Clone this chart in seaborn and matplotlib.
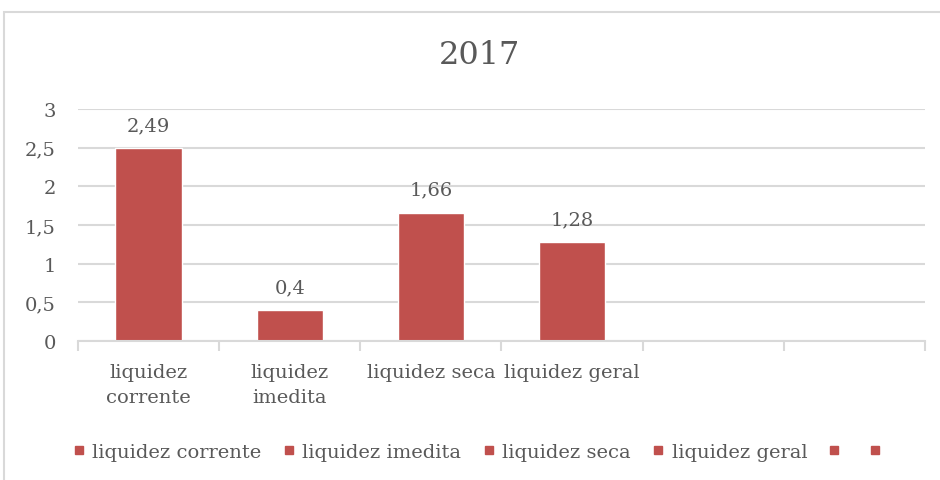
import numpy as np
import pandas as pd
import seaborn as sns
import matplotlib.pyplot as plt
from matplotlib.lines import Line2D
from matplotlib.patches import Rectangle
from matplotlib.ticker import FuncFormatter, FixedLocator

categories = ['liquidez corrente', 'liquidez imedita', 'liquidez seca', 'liquidez geral', '', ' ']
tick_labels = ['liquidez\ncorrente', 'liquidez\nimedita', 'liquidez seca', 'liquidez geral', '', '']
values = [2.49, 0.4, 1.66, 1.28, np.nan, np.nan]
value_labels = ['2,49', '0,4', '1,66', '1,28']

bar_color = '#C0504D'
text_color = '#595959'
grid_color = '#D9D9D9'

sns.set_style('white')
plt.rcParams['font.family'] = ['DejaVu Serif']

df = pd.DataFrame({'cat': categories, 'val': values})

fig = plt.figure(figsize=(9.4, 4.81), dpi=100)
ax = fig.add_axes([78 / 940, 1 - 342 / 481, (925 - 78) / 940, (342 - 110) / 481])

sns.barplot(data=df, x='cat', y='val', order=categories, color=bar_color,
            saturation=1, width=0.47, edgecolor='white', linewidth=1, ax=ax)

ax.set_ylim(0, 3)
ax.set_xlim(-0.5, 5.5)
ax.set_yticks(np.arange(0, 3.01, 0.5))
ax.yaxis.set_major_formatter(FuncFormatter(lambda v, p: f'{v:g}'.replace('.', ',')))
ax.grid(axis='y', color=grid_color, linewidth=1.5)
ax.set_axisbelow(True)
for s in ['top', 'right', 'left']:
    ax.spines[s].set_visible(False)
ax.spines['bottom'].set_color(grid_color)
ax.spines['bottom'].set_linewidth(1.5)

ax.set_xticks(range(len(categories)))
ax.set_xticklabels(tick_labels, fontsize=14, color=text_color, linespacing=1.45)
ax.xaxis.set_minor_locator(FixedLocator(np.arange(-0.5, 5.6, 1)))
ax.tick_params(axis='x', which='major', length=0, pad=16)
ax.tick_params(axis='x', which='minor', bottom=True, direction='out',
               length=7, width=1.5, color=grid_color)
ax.tick_params(axis='y', length=0, labelsize=14, labelcolor=text_color, pad=16)
ax.set_xlabel('')
ax.set_ylabel('')

for i, lab in enumerate(value_labels):
    ax.annotate(lab, (i, values[i]), xytext=(0, 10), textcoords='offset points',
                ha='center', va='bottom', fontsize=14, color=text_color)

fig.text(480 / 940, 1 - 55 / 481, '2017', ha='center', va='center',
         fontsize=23, color=text_color)

handles = [Line2D([], [], marker='s', linestyle='', color=bar_color, markersize=6)
           for _ in categories]
fig.legend(handles, categories, loc='center', bbox_to_anchor=(483 / 940, 1 - 453 / 481),
           ncol=6, frameon=False, fontsize=14, labelcolor=text_color,
           handlelength=0.8, handletextpad=0.3, columnspacing=1.0)

fig.patches.append(Rectangle((4 / 940, -0.1), 1.2, 1 - 13 / 481 + 0.1, fill=False,
                             edgecolor=grid_color, linewidth=1.5,
                             transform=fig.transFigure, figure=fig))

fig.savefig('out.png', dpi=100, facecolor='white')
